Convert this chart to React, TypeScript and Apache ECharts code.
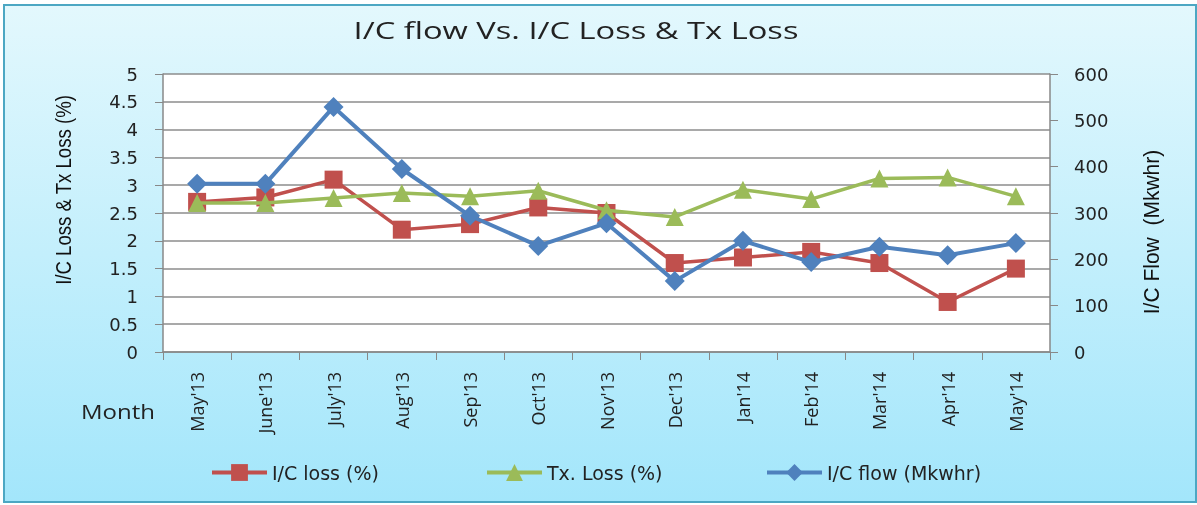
import React, { useEffect, useRef } from "react";
import * as echarts from "echarts";

const months = ["May'13", "June'13", "July'13", "Aug'13", "Sep'13", "Oct'13", "Nov'13", "Dec'13", "Jan'14", "Feb'14", "Mar'14", "Apr'14", "May'14"];
const icLoss = [2.7, 2.78, 3.1, 2.2, 2.3, 2.6, 2.5, 1.6, 1.7, 1.8, 1.6, 0.9, 1.5];
const txLoss = [2.68, 2.68, 2.77, 2.86, 2.8, 2.9, 2.55, 2.43, 2.92, 2.75, 3.12, 3.14, 2.8];
const icFlow = [363, 363, 529, 395, 294, 229, 278, 153, 240, 194, 227, 209, 235];
const seriesNames = ["I/C loss (%)", "Tx. Loss (%)", "I/C flow (Mkwhr)"];

const NARROW = "'Liberation Sans', Arial, sans-serif";
const MAIN = "'Open Sans', 'DejaVu Sans', sans-serif";
const WIDE = "'DejaVu Sans', sans-serif";

export default function App() {
  const ref = useRef<HTMLDivElement>(null);
  useEffect(() => {
    if (!ref.current) return;
    const chart = echarts.init(ref.current, null, { renderer: "svg" });
    const legendBase = {
      top: 463,
      padding: 0,
      itemWidth: 55,
      itemHeight: 21,
      lineStyle: { width: 4 },
      textStyle: { fontFamily: WIDE, fontSize: 19, color: "#222" },
    };
    chart.setOption({
      animation: false,
      graphic: [
        {
          type: "rect",
          z: -10,
          silent: true,
          shape: { x: 4, y: 5, width: 1192, height: 497 },
          style: {
            fill: new echarts.graphic.LinearGradient(0, 0, 0, 1, [
              { offset: 0, color: "#e3f8fd" },
              { offset: 1, color: "#a3e6fb" },
            ]),
            stroke: "#4ca7c3",
            lineWidth: 2,
          },
        },
        {
          type: "text",
          x: 576,
          y: 30,
          scaleX: 1.42,
          style: { text: "I/C flow Vs. I/C Loss & Tx Loss", font: `23px ${MAIN}`, fill: "#222", textAlign: "center", textVerticalAlign: "middle" },
        },
        {
          type: "text",
          x: 118,
          y: 411,
          scaleX: 1.2,
          style: { text: "Month", font: `20px ${MAIN}`, fill: "#222", textAlign: "center", textVerticalAlign: "middle" },
        },
        {
          type: "text",
          x: 63,
          y: 190,
          rotation: Math.PI / 2,
          scaleX: 0.93,
          scaleY: 1.1,
          style: { text: "I/C Loss & Tx Loss (%)", font: `20px ${NARROW}`, fill: "#111", textAlign: "center", textVerticalAlign: "middle" },
        },
        {
          type: "text",
          x: 1152,
          y: 232,
          rotation: Math.PI / 2,
          scaleX: 1.05,
          scaleY: 1.1,
          style: { text: "I/C Flow  (Mkwhr)", font: `20px ${NARROW}`, fill: "#111", textAlign: "center", textVerticalAlign: "middle" },
        },
      ],
      legend: [
        { ...legendBase, left: 210, data: [seriesNames[0]] },
        { ...legendBase, left: 485, data: [seriesNames[1]] },
        { ...legendBase, left: 765, data: [seriesNames[2]] },
      ],
      grid: {
        left: 163,
        right: 147,
        top: 74,
        bottom: 153,
        show: true,
        backgroundColor: "#fff",
        borderWidth: 0,
      },
      xAxis: {
        type: "category",
        data: months,
        boundaryGap: true,
        axisLine: { lineStyle: { color: "#888", width: 1.5 } },
        axisTick: { show: true, length: 8, lineStyle: { color: "#888" } },
        axisLabel: { rotate: 90, fontFamily: MAIN, fontSize: 18, color: "#222", margin: 20 },
      },
      yAxis: [
        {
          type: "value",
          min: 0,
          max: 5,
          interval: 0.5,
          position: "left",
          axisLine: { show: true, lineStyle: { color: "#888", width: 1.5 } },
          axisTick: { show: true, length: 8, lineStyle: { color: "#888" } },
          axisLabel: { fontFamily: WIDE, fontSize: 18, color: "#222", margin: 25 },
          splitLine: { show: true, lineStyle: { color: "#8c8c8c", width: 1.5 } },
        },
        {
          type: "value",
          min: 0,
          max: 600,
          interval: 100,
          position: "right",
          axisLine: { show: true, lineStyle: { color: "#888", width: 1.5 } },
          axisTick: { show: true, length: 8, lineStyle: { color: "#888" } },
          axisLabel: { fontFamily: WIDE, fontSize: 18, color: "#222", margin: 24 },
          splitLine: { show: false },
        },
      ],
      series: [
        {
          name: seriesNames[0],
          type: "line",
          yAxisIndex: 0,
          data: icLoss,
          symbol: "rect",
          symbolSize: 18,
          color: "#c0504d",
          lineStyle: { width: 3.5, color: "#c0504d" },
          itemStyle: { color: "#c0504d" },
          z: 2,
        },
        {
          name: seriesNames[1],
          type: "line",
          yAxisIndex: 0,
          data: txLoss,
          symbol: "triangle",
          symbolSize: 18,
          color: "#9bbb59",
          lineStyle: { width: 3.5, color: "#9bbb59" },
          itemStyle: { color: "#9bbb59" },
          z: 3,
        },
        {
          name: seriesNames[2],
          type: "line",
          yAxisIndex: 1,
          data: icFlow,
          symbol: "diamond",
          symbolSize: 20,
          color: "#4f81bd",
          lineStyle: { width: 4, color: "#4f81bd" },
          itemStyle: { color: "#4f81bd" },
          z: 4,
        },
      ],
    });
    return () => chart.dispose();
  }, []);
  return <div ref={ref} style={{ position: "fixed", left: 0, top: 0, width: 1197, height: 505 }} />;
}
